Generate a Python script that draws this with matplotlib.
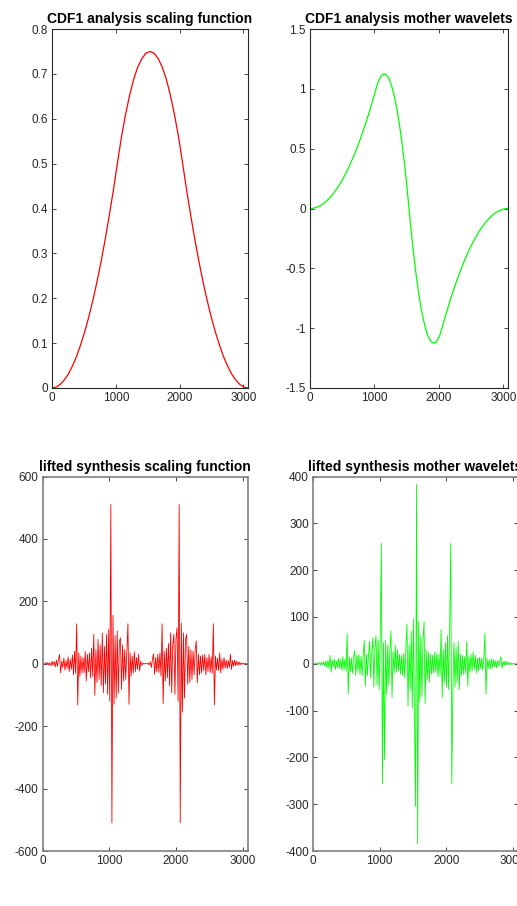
import numpy as np
import matplotlib
matplotlib.use('Agg')
import matplotlib.pyplot as plt

plt.rcParams['font.family'] = ['Liberation Sans', 'DejaVu Sans']
plt.rcParams['axes.unicode_minus'] = False

# top row: analysis functions
phi_step = 64
phi_vals = [0.0, 0.002, 0.008, 0.018, 0.031, 0.049, 0.070, 0.096, 0.125, 0.158,
            0.195, 0.236, 0.281, 0.330, 0.383, 0.439, 0.500, 0.559, 0.609, 0.652,
            0.688, 0.715, 0.734, 0.746, 0.750, 0.746, 0.734, 0.715, 0.688, 0.652,
            0.609, 0.559, 0.500, 0.439, 0.383, 0.330, 0.281, 0.236, 0.195, 0.158,
            0.125, 0.096, 0.070, 0.049, 0.031, 0.018, 0.008, 0.002, 0.0]
psi_step = 32
psi_vals = [0.0, 0.001, 0.004, 0.009, 0.016, 0.024, 0.035, 0.048, 0.063, 0.079,
            0.098, 0.118, 0.141, 0.165, 0.191, 0.220, 0.250, 0.282, 0.316, 0.353,
            0.391, 0.431, 0.473, 0.517, 0.563, 0.610, 0.660, 0.712, 0.766, 0.821,
            0.879, 0.938, 1.000, 1.055, 1.094, 1.117, 1.125, 1.117, 1.094, 1.055,
            1.000, 0.930, 0.844, 0.742, 0.625, 0.492, 0.344, 0.180, 0.0,
            -0.180, -0.344, -0.492, -0.625, -0.742, -0.844, -0.930, -1.000, -1.055, -1.094,
            -1.117, -1.125, -1.117, -1.094, -1.055, -1.000, -0.938, -0.879, -0.821, -0.766,
            -0.712, -0.660, -0.610, -0.563, -0.517, -0.473, -0.431, -0.391, -0.353, -0.316,
            -0.282, -0.250, -0.220, -0.191, -0.165, -0.141, -0.118, -0.098, -0.079, -0.063,
            -0.048, -0.035, -0.024, -0.016, -0.009, -0.004, -0.001, 0.0]

# bottom row: lifted synthesis functions, read every 16 points (0..3072)
low_step = 16
syn_phi = [
    0, 1, -2, 3, -2, 4, -5, 3, -6, 8, -5, 7, -10, 12, -8, 14,
    30, -29, 8, -12, 18, -20, 10, -15, 22, -25, 14, -18, 28, -35, 40, -30,
    128, -132, 35, -40, 25, -30, 20, -28, 40, -55, 30, -25, 35, -45, 50, -40,
    94, -101, 45, -60, 78, -50, 60, -70, 99, -93, 55, -65, 94, -98, 110, -120,
    510, -510, 155, -130, 90, -110, 105, -95, 70, 83, -82, 60, -55, 45, -50, 40,
    128, -130, 35, -40, 25, -30, 38, -25, 20, -18, 30, -23, 8, -5, 2, 0,
    0, 1, -1, 2, -4, 6, -12, 15, 32, -34, 20, -25, 30, -28, 35, -40,
    128, -128, 40, -55, 50, -45, 65, -70, 99, -93, 60, 94, -98, 80, 115, -120,
    510, -510, 130, -155, 99, -110, 80, 94, -66, 55, -60, 45, -50, 40, -35, 45,
    73, -61, 30, -35, 25, -30, 28, -22, 30, -35, 20, -25, 30, -28, 22, -30,
    128, -132, 25, -20, 18, -22, 35, -29, 15, -18, 20, -14, 12, -15, 10, -12,
    30, -18, 10, -8, 12, -6, 8, -5, 6, -4, 3, -2, 2, -1, 1, 0,
    0]
syn_psi = [
    0, 0, 1, -1, 2, -1, 2, -3, 3, -2, 4, -5, 6, -8, 7, -10,
    18, -18, 8, -6, 10, -12, 6, -8, 12, -10, 9, -14, 15, -12, 10, -16,
    65, -65, 15, -18, 12, -20, 14, 28, -25, 18, -15, 20, -22, 16, -25, 20,
    50, -48, 20, -25, 18, 48, -30, 25, 55, -50, 35, 60, -45, 50, -55, 63,
    257, -257, 45, -205, 50, -65, 40, -45, 30, 70, -72, 25, -20, 40, -18, 30,
    -15, 20, -22, 18, -25, 22, -30, 35, 85, -90, 40, -55, 70, -95, 95, -100,
    -305, 383, -385, 90, -80, 60, -70, 50, 90, -85, 30, -35, 25, -40, 20, -22,
    18, -20, 25, -18, 22, -28, 20, -25, 73, -72, 30, -40, 45, -50, 60, -55,
    78, 257, -257, -60, 45, -50, 35, -40, 48, -55, 20, -25, 18, -22, 15, -20,
    48, -48, 15, -18, 20, -15, 25, -12, 18, -20, 12, -15, 14, -10, 12, -14,
    10, 65, -65, 12, -10, 8, -12, 10, -8, 9, -7, 6, -9, 7, -5, 6,
    15, -10, 5, -4, 6, -3, 4, -2, 3, -2, 1, -1, 1, 0, 0, 0,
    0]

titles = ['CDF1 analysis scaling function', 'CDF1 analysis mother wavelets',
          'lifted synthesis scaling function', 'lifted synthesis mother wavelets']
xticks = [0, 1000, 2000, 3000]
yticks_tl = [0, 0.1, 0.2, 0.3, 0.4, 0.5, 0.6, 0.7, 0.8]
ytlabels_tl = ['0', '0.1', '0.2', '0.3', '0.4', '0.5', '0.6', '0.7', '0.8']
yticks_tr = [-1.5, -1, -0.5, 0, 0.5, 1, 1.5]
ytlabels_tr = ['-1.5', '-1', '-0.5', '0', '0.5', '1', '1.5']
yticks_bl = [-600, -400, -200, 0, 200, 400, 600]
yticks_br = [-400, -300, -200, -100, 0, 100, 200, 300, 400]

W, H = 517, 906
fig = plt.figure(figsize=(W / 100, H / 100), dpi=100)


def box(l, t, r, b):
    return [l / W, 1 - b / H, (r - l) / W, (b - t) / H]


ax1 = fig.add_axes(box(52, 29, 248, 388))
ax2 = fig.add_axes(box(310, 29, 508, 388))
ax3 = fig.add_axes(box(42.5, 476.5, 247.5, 851))
ax4 = fig.add_axes(box(313, 476.5, 518, 851))

ax1.plot(np.arange(len(phi_vals)) * phi_step, phi_vals, color='#ff0000', lw=0.9)
ax2.plot(np.arange(len(psi_vals)) * psi_step, psi_vals, color='#00ff00', lw=0.9)
ax3.plot(np.arange(len(syn_phi)) * low_step, syn_phi, color='#ff0000', lw=0.6)
ax4.plot(np.arange(len(syn_psi)) * low_step, syn_psi, color='#00ff00', lw=0.6)

ax1.set_ylim(0, 0.8)
ax1.set_yticks(yticks_tl)
ax1.set_yticklabels(ytlabels_tl)
ax2.set_ylim(-1.5, 1.5)
ax2.set_yticks(yticks_tr)
ax2.set_yticklabels(ytlabels_tr)
ax3.set_ylim(-600, 600)
ax3.set_yticks(yticks_bl)
ax4.set_ylim(-400, 400)
ax4.set_yticks(yticks_br)

for i, ax in enumerate([ax1, ax2, ax3, ax4]):
    ax.set_xlim(0, 3072)
    ax.set_xticks(xticks)
    ax.set_title(titles[i], fontsize=10, fontweight='bold', pad=4)
    spine_c = '#262626' if i < 2 else '#808080'
    for s in ax.spines.values():
        s.set_color(spine_c)
        s.set_linewidth(0.8 if i < 2 else 1.2)
    ax.tick_params(direction='in', top=True, right=True, length=3,
                   labelsize=8.5, colors='#262626', width=0.6, pad=3)

fig.savefig('out.png', dpi=100)
